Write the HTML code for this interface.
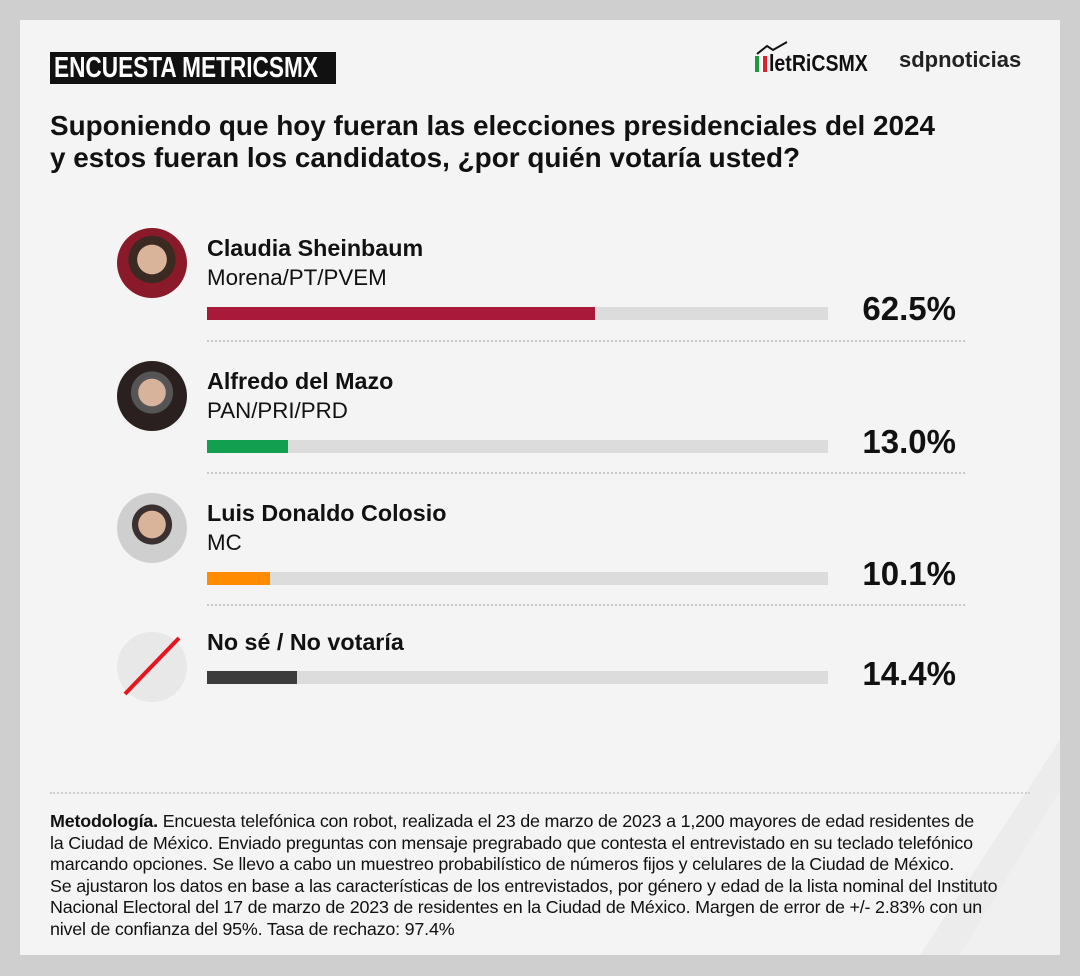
<!DOCTYPE html>
<html><head><meta charset="utf-8"><style>
body{margin:0;width:1080px;height:976px;background:#cfcfcf;font-family:"Liberation Sans",sans-serif;position:relative;overflow:hidden}
.card{position:absolute;left:20px;top:20px;width:1040px;height:935px;background:#f4f4f4;overflow:hidden}
.abs{position:absolute}
.tag{left:30px;top:32px;height:32px;width:286px;background:#111;overflow:hidden}
.tag span{position:absolute;left:4px;top:0;color:#fff;font-weight:bold;font-size:29px;line-height:33px;white-space:nowrap;transform:scaleX(0.78);transform-origin:0 0}
.q{left:30px;top:90px;font-weight:bold;font-size:27.9px;line-height:32px;color:#111;white-space:nowrap}
.av{width:70px;height:70px;border-radius:50%}
.nm{font-weight:bold;font-size:23.3px;color:#111;white-space:nowrap}
.pt{font-size:22.3px;color:#111}
.bar{left:187px;width:621px;height:13px;background:#dcdcdc}
.fill{position:absolute;left:0;top:0;height:13px}
.pc{font-weight:bold;font-size:33px;color:#111;right:104px}
.sep{left:187px;width:758px;border-top:2px dotted #c8c8c8}
.meth{left:30px;top:791px;font-size:17.9px;line-height:21.6px;color:#111;white-space:nowrap;letter-spacing:-0.2px}
</style></head><body>
<div class="card">
<svg class="abs" style="left:700px;top:0" width="340" height="935"><polygon points="340,720 340,935 200,935" fill="#ececec"/><polygon points="340,770 340,935 240,935" fill="#f0f0f0"/></svg>
<div class="abs tag"><span>ENCUESTA METRICSMX</span></div>
<div class="abs" style="left:735px;top:24px;width:130px;height:30px">
<div class="abs" style="left:0;top:12px;width:4px;height:16px;background:#1a9a3a"></div>
<div class="abs" style="left:4px;top:12px;width:4px;height:16px;background:#fff"></div>
<div class="abs" style="left:8px;top:12px;width:4px;height:16px;background:#d8232a"></div>
<div class="abs" style="left:14px;top:6px;font-weight:bold;font-size:23px;white-space:nowrap;color:#111;transform:scaleX(0.85);transform-origin:0 0">letRiCSMX</div>
<svg class="abs" style="left:0;top:-4px" width="40" height="16"><polyline points="2,14 12,6 18,10 32,2" stroke="#111" stroke-width="2" fill="none"/></svg>
</div>
<div class="abs" style="left:879px;top:27px;font-size:22px;font-weight:bold;color:#222">sdpnoticias</div>
<div class="abs q">Suponiendo que hoy fueran las elecciones presidenciales del 2024<br>y estos fueran los candidatos, ¿por quién votaría usted?</div>

<div class="abs av" style="left:97px;top:208px;background:radial-gradient(circle at 50% 45%,#d9b49a 0 28%,#3a2a22 29% 45%,#8a1a2a 46%)"></div>
<div class="abs nm" style="left:187px;top:215px">Claudia Sheinbaum</div>
<div class="abs pt" style="left:187px;top:245px">Morena/PT/PVEM</div>
<div class="abs bar" style="top:287px"><div class="fill" style="width:388px;background:#a8193a"></div></div>
<div class="abs pc" style="top:270px">62.5%</div>
<div class="abs sep" style="top:320px"></div>

<div class="abs av" style="left:97px;top:341px;background:radial-gradient(circle at 50% 45%,#d8b39c 0 26%,#555 27% 40%,#2a2020 41%)"></div>
<div class="abs nm" style="left:187px;top:348px">Alfredo del Mazo</div>
<div class="abs pt" style="left:187px;top:378px">PAN/PRI/PRD</div>
<div class="abs bar" style="top:420px"><div class="fill" style="width:81px;background:#12a050"></div></div>
<div class="abs pc" style="top:403px">13.0%</div>
<div class="abs sep" style="top:452px"></div>

<div class="abs av" style="left:97px;top:473px;background:radial-gradient(circle at 50% 45%,#d9b49a 0 26%,#3a3030 27% 38%,#cfcfcf 39%)"></div>
<div class="abs nm" style="left:187px;top:480px">Luis Donaldo Colosio</div>
<div class="abs pt" style="left:187px;top:510px">MC</div>
<div class="abs bar" style="top:552px"><div class="fill" style="width:63px;background:#ff8c00"></div></div>
<div class="abs pc" style="top:535px">10.1%</div>
<div class="abs sep" style="top:584px"></div>

<div class="abs av" style="left:97px;top:612px;background:#e8e8e8"></div>
<svg class="abs" style="left:97px;top:612px" width="70" height="70"><line x1="8" y1="62" x2="62" y2="6" stroke="#e8141e" stroke-width="4"/></svg>
<div class="abs nm" style="left:187px;top:609px">No sé / No votaría</div>
<div class="abs bar" style="top:651px"><div class="fill" style="width:90px;background:#3c3c3c"></div></div>
<div class="abs pc" style="top:635px">14.4%</div>

<div class="abs" style="left:30px;top:772px;width:980px;border-top:2px dotted #d0d0d0"></div>
<div class="abs meth"><b>Metodología.</b> Encuesta telefónica con robot, realizada el 23 de marzo de 2023 a 1,200 mayores de edad residentes de<br>la Ciudad de México. Enviado preguntas con mensaje pregrabado que contesta el entrevistado en su teclado telefónico<br>marcando opciones. Se llevo a cabo un muestreo probabilístico de números fijos y celulares de la Ciudad de México.<br>Se ajustaron los datos en base a las características de los entrevistados, por género y edad de la lista nominal del Instituto<br>Nacional Electoral del 17 de marzo de 2023 de residentes en la Ciudad de México. Margen de error de +/- 2.83% con un<br>nivel de confianza del 95%. Tasa de rechazo: 97.4%</div>
</div>
</body></html>
